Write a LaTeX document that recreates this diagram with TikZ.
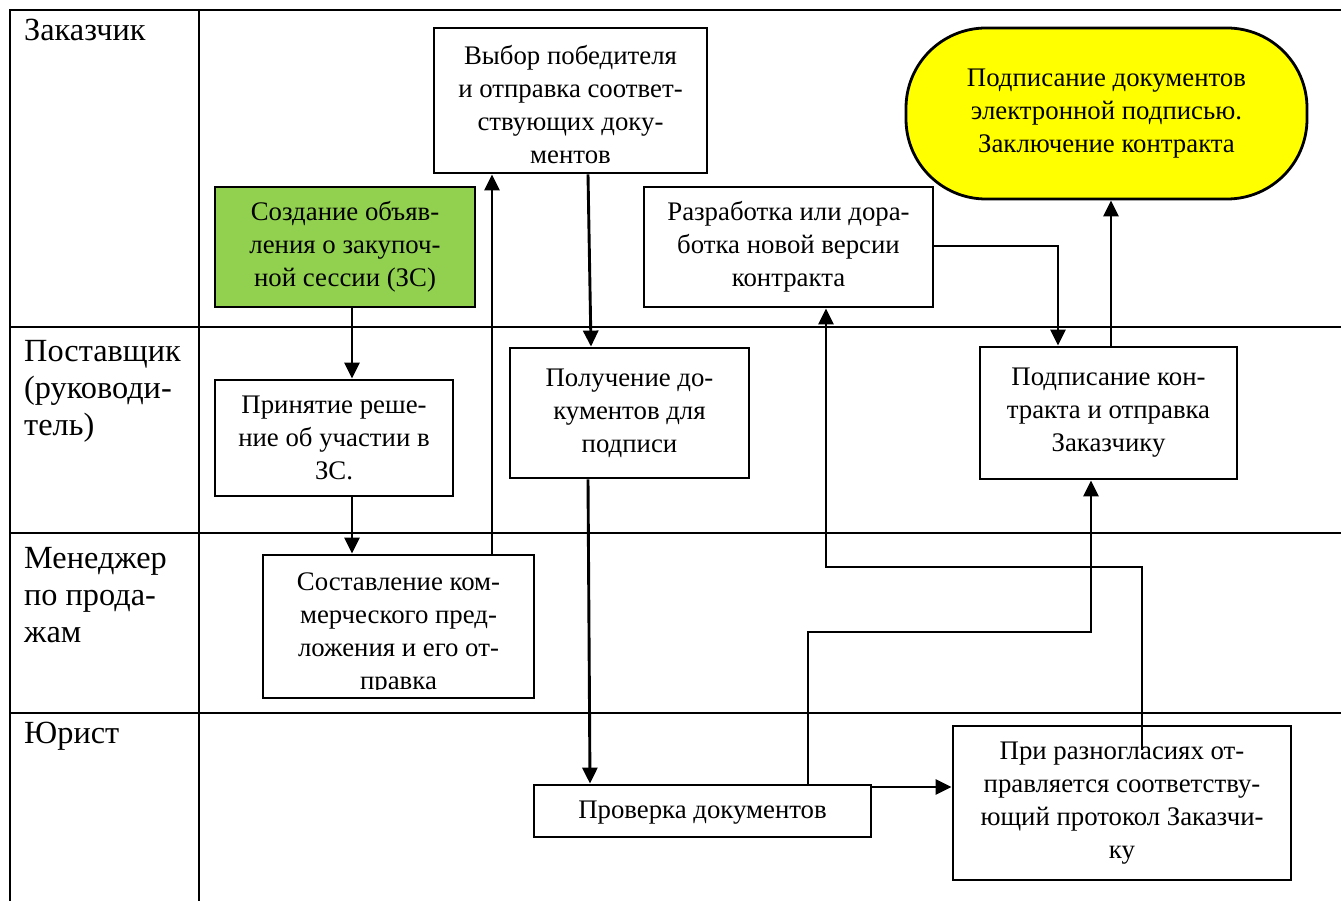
\documentclass[tikz,border=0pt]{standalone}
\usepackage{fontspec}
\setmainfont{Liberation Serif}
\usetikzlibrary{arrows.meta}
\definecolor{boxgreen}{HTML}{92D050}
\definecolor{boxyellow}{HTML}{FFFF00}
\begin{document}
\begin{tikzpicture}[x=1pt,y=-1pt,
  lane/.style={anchor=north west, inner sep=0pt, align=left, font=\fontsize{32.3}{37}\selectfont},
  box/.style={draw, line width=2.8pt, align=center, inner sep=0pt, font=\fontsize{26.8}{33}\selectfont},
  boxtext/.style={align=center, inner sep=0pt, font=\fontsize{26.8}{33}\selectfont},
  flow/.style={line width=2.9pt, -{Triangle[length=16pt,width=15pt]}},
  gridline/.style={line width=2.5pt}
]
\useasboundingbox (0,0) rectangle (1341,901);

% table
\draw[gridline] (1341,10) -- (10,10) -- (10,901);
\draw[gridline] (199,10) -- (199,901);
\draw[gridline] (10,327) -- (1341,327);
\draw[gridline] (10,533) -- (1341,533);
\draw[gridline] (10,713) -- (1341,713);

% lane labels
\node[lane] (l1) at (24,19) {Заказчик};
\node[lane] (l2) at (24,340) {Поставщик\\(руководи-\\тель)};
\node[lane] (l3) at (24,547) {Менеджер\\по прода-\\жам};
\node[lane] (l4) at (24,722) {Юрист};

% boxes
\node[box, fill=boxgreen, minimum width=260, minimum height=120] (green) at (345,247)
  {Создание объяв-\\ления о закупоч-\\ной сессии (ЗС)};
\node[box, minimum width=273, minimum height=145] (vybor) at (570.5,100.5) {};
\node[boxtext] (vybortext) at (570.5,105)
  {Выбор победителя\\и отправка соответ-\\ствующих доку-\\ментов};
\node[box, minimum width=289, minimum height=120] (razrab) at (788.5,247)
  {Разработка или дора-\\ботка новой версии\\контракта};
\node[box, fill=boxyellow, rounded corners=80pt, minimum width=401, minimum height=171] (podp) at (1106.5,113.5)
  {Подписание документов\\электронной подписью.\\Заключение контракта};
\node[box, minimum width=238, minimum height=116] (prinyat) at (334,438)
  {Принятие реше-\\ние об участии в\\ЗС.};
\node[box, minimum width=239, minimum height=130] (poluch) at (629.5,413)
  {Получение до-\\кументов для\\подписи};
\node[box, minimum width=271, minimum height=143] (sostav) at (398.5,626.5) {};
\begin{scope}
  \clip (263,555) rectangle (534,689);
  \node[boxtext] (sostavtext) at (398.5,634)
    {Составление ком-\\мерческого пред-\\ложения и его от-\\правка};
\end{scope}
\node[box, minimum width=257, minimum height=132] (podpkon) at (1108.5,413)
  {Подписание кон-\\тракта и отправка\\Заказчику};
\node[box, minimum width=337, minimum height=52] (proverka) at (702.5,811) {};
\node[boxtext] (proverkatext) at (702.5,813) {Проверка документов};
\node[box, minimum width=338, minimum height=154] (razn) at (1122,803)
  {При разногласиях от-\\правляется соответству-\\ющий протокол Заказчи-\\ку};

% helper coordinates
\coordinate (c1) at (352,0);
\coordinate (c2) at (492,0);
\coordinate (c3) at (588,0);
\coordinate (c4) at (591,0);
\coordinate (c5) at (590,0);
\coordinate (c6) at (0,787);
\coordinate (t1) at (808,632);
\coordinate (c9) at (1091,0);
\coordinate (t2) at (1142,750);
\coordinate (t3) at (1142,567);
\coordinate (c10) at (826,0);
\coordinate (c11) at (0,246);
\coordinate (c12) at (1058,0);
\coordinate (c13) at (1111,0);

% connectors
\draw[flow] (green.south -| c1) -- (prinyat.north -| c1);
\draw[flow] (prinyat.south -| c1) -- (sostav.north -| c1);
\draw[flow] (sostav.north -| c2) -- (vybor.south -| c2);
\draw[flow] (vybor.south -| c3) -- (poluch.north -| c4);
\draw[flow] (poluch.south -| c3) -- (proverka.north -| c5);
\draw[flow] (proverka.east |- c6) -- (razn.west |- c6);
\draw[flow] (proverka.north -| t1) -- (t1) -| (podpkon.south -| c9);
\draw[flow] (t2) -- (t3) -| (razrab.south -| c10);
\draw[flow] (razrab.east |- c11) -| (podpkon.north -| c12);
\draw[flow] (podpkon.north -| c13) -- (podp.south -| c13);
\end{tikzpicture}
\end{document}
